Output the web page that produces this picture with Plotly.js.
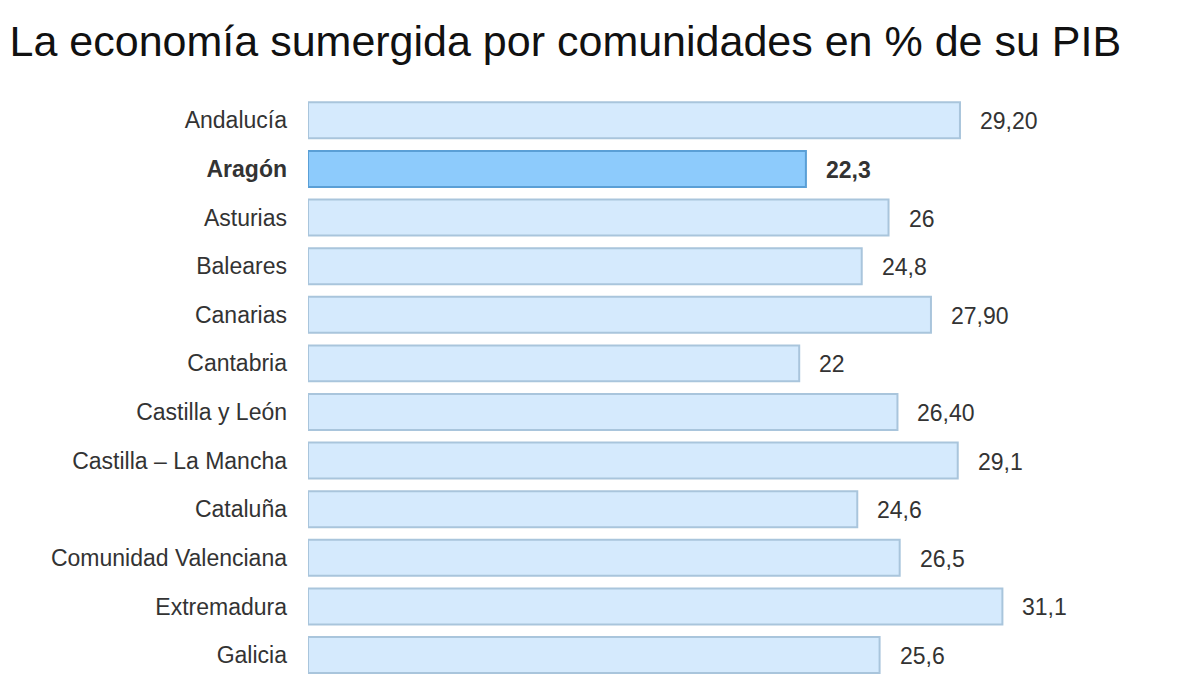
<!DOCTYPE html>
<html><head><meta charset="utf-8">
<script src="https://cdn.plot.ly/plotly-3.0.1.min.js"></script>
<style>html,body{margin:0;padding:0;background:#fff}#chart{width:1200px;height:675px}</style>
</head><body><div id="chart"></div>
<script>
const categories = ["Andalucía","Aragón","Asturias","Baleares","Canarias","Cantabria","Castilla y León","Castilla – La Mancha","Cataluña","Comunidad Valenciana","Extremadura","Galicia"];
const values = [29.2, 22.3, 26, 24.8, 27.9, 22, 26.4, 29.1, 24.6, 26.5, 31.1, 25.6];
const valueLabels = ["29,20","22,3","26","24,8","27,90","22","26,40","29,1","24,6","26,5","31,1","25,6"];
const highlight = "Aragón";

const fills = categories.map(c => c === highlight ? "#8dcbfc" : "#d5eafd");
const borders = categories.map(c => c === highlight ? "#5a9fd6" : "#a9c5dc");
const tickText = categories.map(c => c === highlight ? "<b>" + c + "</b>" : c);
const idx = categories.map((c, i) => i);

const trace = {
  type: "bar", orientation: "h",
  x: values, y: idx,
  marker: {color: fills, line: {color: borders, width: 2}},
  width: 0.74,
  hoverinfo: "skip"
};

const annotations = values.map((v, i) => ({
  x: v, y: i, xref: "x", yref: "y",
  text: categories[i] === highlight ? "<b>" + valueLabels[i] + "</b>" : valueLabels[i],
  showarrow: false, xanchor: "left", yanchor: "middle", xshift: 18, yshift: -1,
  font: {family: "Liberation Sans, Arial, sans-serif", size: 23, color: "#333333"}
}));

const layout = {
  width: 1200, height: 675,
  margin: {l: 308, r: 0, t: 96, b: 0},
  paper_bgcolor: "#fff", plot_bgcolor: "#fff",
  title: {text: "La economía sumergida por comunidades en % de su PIB",
    x: 0.008, xanchor: "left", xref: "container", y: 0.94, yanchor: "middle", yref: "container",
    font: {family: "Liberation Sans, Arial, sans-serif", size: 43, color: "#111111"}},
  xaxis: {range: [0, 39.95], visible: false, fixedrange: true},
  yaxis: {range: [11.41, -0.5], tickmode: "array", tickvals: idx, ticktext: tickText,
    showgrid: false, zeroline: false, showline: false, ticks: "", ticklabelstandoff: 20,
    tickfont: {family: "Liberation Sans, Arial, sans-serif", size: 23, color: "#333333"}},
  annotations: annotations,
  showlegend: false
};

Plotly.newPlot("chart", [trace], layout, {displayModeBar: false, staticPlot: true});
</script></body></html>
